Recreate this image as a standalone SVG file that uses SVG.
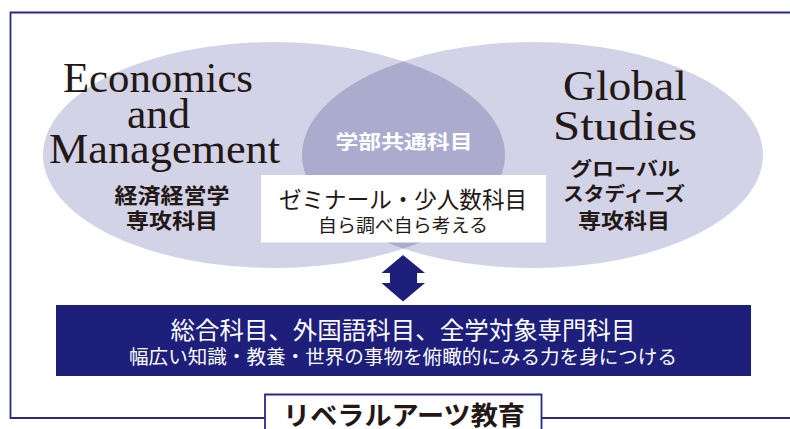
<svg xmlns="http://www.w3.org/2000/svg" width="790" height="429" viewBox="0 0 790 429">
<style>
.frame{fill:none;stroke:#2a2a8a;stroke-width:1.8}
.en{font-family:"Liberation Serif","DejaVu Serif",serif;fill:#231815;font-size:42px}
.jb{font-family:"Noto Sans CJK JP","Noto Sans",sans-serif;font-weight:700;fill:#231815}
.jr{font-family:"Noto Sans CJK JP","Noto Sans",sans-serif;font-weight:400;fill:#231815}
.w{fill:#ffffff}
</style>
<defs>
<clipPath id="clipL"><ellipse cx="274" cy="155" rx="231" ry="113"/></clipPath>
</defs>
<rect width="790" height="429" fill="#ffffff"/>
<g id="frame">
<path class="frame" d="M790 12.5 H10.5 V418 H265 M542 418 H790"/>
<path class="frame" d="M265 432 V394.5 H541.5 V432"/>
</g>
<g id="econ">
<ellipse cx="274" cy="155" rx="231" ry="113" fill="#d2d3e6"/>
</g>
<g id="global">
<ellipse cx="532.5" cy="155" rx="230.5" ry="113" fill="#d2d3e6"/>
</g>
<g id="common">
<ellipse cx="532.5" cy="155" rx="230.5" ry="113" fill="#ababcd" clip-path="url(#clipL)"/>
<text class="jb w" x="404" y="149" font-size="19" text-anchor="middle" textLength="137" lengthAdjust="spacingAndGlyphs">学部共通科目</text>
</g>
<g id="econ-text">
<text class="en" x="63" y="92" textLength="190" lengthAdjust="spacingAndGlyphs">Economics</text>
<text class="en" x="127" y="128" textLength="63" lengthAdjust="spacingAndGlyphs">and</text>
<text class="en" x="49" y="163" textLength="231" lengthAdjust="spacingAndGlyphs">Management</text>
<text class="jb" x="172" y="203" font-size="21" text-anchor="middle" textLength="115" lengthAdjust="spacingAndGlyphs">経済経営学</text>
<text class="jb" x="172" y="228" font-size="21" text-anchor="middle" textLength="92" lengthAdjust="spacingAndGlyphs">専攻科目</text>
</g>
<g id="global-text">
<text class="en" x="563" y="100" textLength="124" lengthAdjust="spacingAndGlyphs">Global</text>
<text class="en" x="553" y="140" textLength="144" lengthAdjust="spacingAndGlyphs">Studies</text>
<text class="jb" x="625" y="176" font-size="19" text-anchor="middle" textLength="110" lengthAdjust="spacingAndGlyphs">グローバル</text>
<text class="jb" x="624" y="201" font-size="19" text-anchor="middle" textLength="122" lengthAdjust="spacingAndGlyphs">スタディーズ</text>
<text class="jb" x="624" y="228" font-size="21" text-anchor="middle" textLength="92" lengthAdjust="spacingAndGlyphs">専攻科目</text>
</g>
<g id="seminar">
<rect x="261" y="175" width="285" height="67.5" fill="#ffffff"/>
<text class="jr" x="403" y="208" font-size="23" text-anchor="middle" textLength="248" lengthAdjust="spacingAndGlyphs">ゼミナール・少人数科目</text>
<text class="jr" x="403" y="232" font-size="18" text-anchor="middle" textLength="170" lengthAdjust="spacingAndGlyphs">自ら調べ自ら考える</text>
</g>
<g id="connectors">
<path d="M403 255 L425 273 H417 V283 H425 L403 301.5 L381.5 283 H390 V273 H381.5 Z" fill="#1e1e7b"/>
</g>
<g id="general">
<rect x="56" y="305" width="695" height="71" fill="#1e1e7b"/>
<text class="jr w" x="403" y="339" font-size="24" text-anchor="middle" textLength="465" lengthAdjust="spacingAndGlyphs">総合科目、外国語科目、全学対象専門科目</text>
<text class="jr w" x="403" y="364" font-size="19" text-anchor="middle" textLength="548" lengthAdjust="spacingAndGlyphs">幅広い知識・教養・世界の事物を俯瞰的にみる力を身につける</text>
</g>
<g id="liberal">
<text class="jb" x="404" y="425" font-size="26" text-anchor="middle" textLength="242" lengthAdjust="spacingAndGlyphs">リベラルアーツ教育</text>
</g>
</svg>
